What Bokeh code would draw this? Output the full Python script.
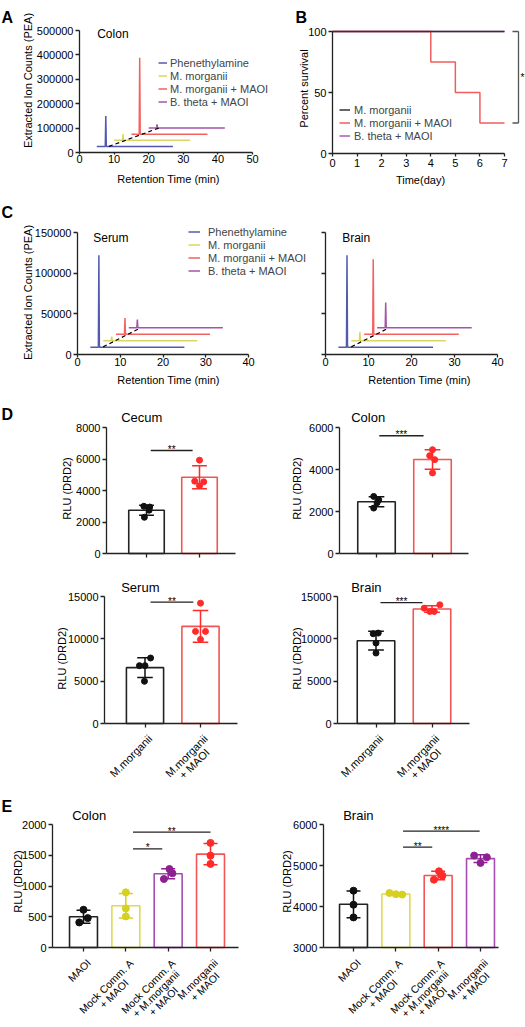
import math
import numpy as np
from bokeh.plotting import figure
from bokeh.models import Range1d, FixedTicker, NumeralTickFormatter, Label, Legend, LegendItem
from bokeh.layouts import column, row
from bokeh.embed import file_html
from bokeh.resources import INLINE
from bokeh.core.properties import value

FONT = "Liberation Sans"

# ---------------- DATA ----------------
chrom_series = ["Phenethylamine", "M. morganii", "M. morganii + MAOI", "B. theta + MAOI"]
chrom_colors = ["#27309a", "#d2cc3a", "#f23a3a", "#8c2a94"]

# Panel A (colon chromatograms)
A_start = [5, 10, 15, 20]
A_end = [27, 32, 37, 42]
A_base = [25000, 50000, 75000, 100000]
A_peak_rt = [7.6, 12.6, 17.4, 22.4]
A_peak_h = [150000, 76000, 388000, 115000]
A_dash_x = [8.5, 22.9]
A_dash_y = [25000, 100000]

# Panel B (survival)
B_series = ["M. morganii", "M. morganii + MAOI", "B. theta + MAOI"]
B_colors = ["#333333", "#f25c5c", "#a45cb4"]
B_days = [[0, 7], [0, 4, 5, 6, 7], [0, 7]]
B_surv = [[100, 100], [100, 75, 50, 25, 25], [100, 100]]
B_sig = (25, 100, "*")

# Panel C (serum / brain chromatograms)
C_start = [3, 6, 9, 12]
C_end = [25, 28, 31, 34]
C_base = [9000, 17000, 25000, 33000]
C_peak_rt = [5.0, 8.0, 11.1, 14.0]
C_serum_peak_h = [122000, 22000, 45000, 43000]
C_brain_peak_h = [122000, 28000, 117000, 64000]
C_dash_x = [6.0, 14.4]
C_dash_y = [9400, 31800]

# Panel D (RLU DRD2)
D_groups = ["M.morganii", "M.morganii\n+ MAOI"]
D_cecum = [[3000, 2950, 2750, 2300], [5926, 4593, 4550, 4296]]
D_colon = [[2716, 2558, 2416, 2163], [4942, 4658, 4469, 3837]]
D_serum = [[6832, 6832, 7735, 4986], [14213, 10876, 10876, 9933]]
D_brain = [[10600, 10679, 9501, 8323], [13624, 13231, 13231, 14016]]
D_cecum_jit = [[-0.05, 0.06, 0.05, -0.04], [0, -0.09, 0.08, 0]]
D_colon_jit = [[-0.05, 0.04, 0.01, -0.05], [0, -0.05, 0.04, 0]]
D_serum_jit = [[-0.1, 0, 0.1, -0.01], [0, -0.09, 0.09, 0]]
D_brain_jit = [[-0.05, 0.04, 0, 0], [-0.14, -0.04, 0.04, 0.14]]
D_sig = {"cecum": (0.08, 0.87, 6540, "**"), "colon": (0.05, 0.84, 5606, "***"),
         "serum": (0.1, 0.87, 14330, "**"), "brain": (0.08, 0.83, 14270, "***")}

# Panel E
E_groups = ["MAOI", "Mock Comm. A\n+ MAOI", "Mock Comm. A\n+ M.morganii\n+ MAOI", "M.morganii\n+ MAOI"]
E_colon = [[614, 408, 478], [897, 636, 505], [1277, 1207, 1114], [1701, 1495, 1359]]
E_colon_jit = [[0, -0.1, 0.1], [0, 0, 0], [0.03, 0.1, -0.1], [0, 0, 0]]
E_brain = [[4386, 4043, 3734], [4329, 4300, 4290], [4859, 4753, 4655], [5242, 5201, 5062]]
E_brain_jit = [[0, 0, 0], [-0.15, 0, 0.15], [0.02, 0.1, -0.1], [-0.15, 0.15, 0]]
E_colon_sig = [(1.17, 1.86, 1603, "*"), (1.17, 3.0, 1875, "**")]
E_brain_sig = [(1.17, 1.86, 5446, "**"), (1.17, 2.98, 5837, "****")]

BLACK_LINE, BLACK_DOT = "#222222", "#111111"
RED_LINE, RED_DOT = "#f25555", "#ff2a2a"
YEL_LINE, YEL_DOT = "#e0da50", "#d6d01e"
PUR_LINE, PUR_DOT = "#a64cb5", "#8e2192"

# ---------------- HELPERS ----------------
CW = {'M': 833, 'A': 667, 'O': 778, 'I': 278, 'o': 556, 'c': 500, 'k': 500, ' ': 278, 'C': 722,
      'm': 833, '.': 278, '+': 584, 'r': 333, 'g': 556, 'a': 556, 'n': 556, 'i': 222}


def text_w(s, fs):
    return sum(CW.get(ch, 556) for ch in s) / 1000.0 * fs


def make_fig(box, xmap, ymap):
    """box: canvas box in page px; xmap/ymap: ((px, value), (px, value)) anchors."""
    bx0, by0, bx1, by1 = box
    (pxa, xa), (pxb, xb) = xmap
    (pya, ya), (pyb, yb) = ymap
    sx = (xb - xa) / (pxb - pxa)
    sy = (yb - ya) / (pyb - pya)
    xr = (xa + (bx0 - pxa) * sx, xa + (bx1 - pxa) * sx)
    yr = (ya + (by1 - pya) * sy, ya + (by0 - pya) * sy)
    p = figure(width=bx1 - bx0, height=by1 - by0, x_range=Range1d(*xr), y_range=Range1d(*yr),
               output_backend="svg", toolbar_location=None, title=None,
               min_border_left=0, min_border_right=0, min_border_top=0, min_border_bottom=0)
    p.outline_line_color = None
    p.xgrid.visible = False
    p.ygrid.visible = False
    p.background_fill_color = "white"
    p.border_fill_color = "white"

    def conv(px, py):
        return xa + (px - pxa) * sx, ya + (py - pya) * sy
    return p, conv


def setup_axes(p, conv, yaxis_px, xaxis_py, xend_px, ytop_py, xticks, yticks,
               fs="11px", xtick_out=3, xstand=1, show_x=True, show_y=True):
    x0, _ = conv(yaxis_px, 0)
    x1, _ = conv(xend_px, 0)
    _, y0 = conv(0, xaxis_py)
    _, y1 = conv(0, ytop_py)
    xa, ya = p.xaxis[0], p.yaxis[0]
    xa.fixed_location = y0
    ya.fixed_location = x0
    xa.bounds = (x0, x1)
    ya.bounds = (y0, y1)
    xa.ticker = FixedTicker(ticks=xticks)
    ya.ticker = FixedTicker(ticks=yticks)
    for ax in (xa, ya):
        ax.axis_line_color = BLACK_LINE
        ax.axis_line_width = 1.3
        ax.major_tick_line_color = BLACK_LINE
        ax.major_tick_line_width = 1.3
        ax.major_tick_in = 0
        ax.major_tick_out = 4
        ax.minor_tick_line_color = None
        ax.major_label_text_font = FONT
        ax.major_label_text_font_size = fs
        ax.major_label_text_color = "black"
        ax.major_label_standoff = 2
    xa.major_tick_out = xtick_out
    xa.major_label_standoff = xstand
    if not show_x:
        xa.major_label_text_color = None
    if not show_y:
        ya.major_label_text_color = None


def add_label(p, conv, px, py, text, size, align="left", baseline="middle", bold=False, angle=0.0):
    x, y = conv(px, py)
    p.add_layout(Label(x=x, y=y, text=text, text_font=FONT, text_font_size=f"{size}px",
                       text_align=align, text_baseline=baseline, angle=angle,
                       text_font_style="bold" if bold else "normal", text_color="black"))


def chrom(p, starts, ends, bases, rts, heights, hw):
    rs = []
    for s, e, b, rt, h, c in zip(starts, ends, bases, rts, heights, chrom_colors):
        xs = [s, rt - hw, rt, rt + hw, e]
        ys = [b, b, h, b, b]
        rs.append(p.line(xs, ys, line_color=c, line_width=1.5, line_alpha=0.8))
    return rs


def add_legend(p, labels, renderers, loc, glyph_w, standoff, row_h):
    lg = Legend(items=[LegendItem(label=t, renderers=[r]) for t, r in zip(labels, renderers)],
                location=loc, orientation="vertical", padding=0, margin=0, spacing=0,
                glyph_width=glyph_w, glyph_height=row_h, label_height=row_h,
                label_standoff=standoff, label_text_font=FONT, label_text_font_size="11px",
                label_text_line_height=1.0, background_fill_alpha=0, border_line_alpha=0)
    p.add_layout(lg)


def bar_panel(p, vals, jit, line_cols, dot_cols, bw, cap, dsize, bottom):
    for i, (v, j, lc, dc) in enumerate(zip(vals, jit, line_cols, dot_cols)):
        m = float(np.mean(v))
        sd = float(np.std(v, ddof=1))
        p.vbar(x=[i], width=bw, top=[m], bottom=bottom, fill_color="white",
               line_color=lc, line_width=1.6)
        p.segment(x0=[i], y0=[m - sd], x1=[i], y1=[m + sd], line_color=dc, line_width=1.5)
        p.segment(x0=[i - cap, i - cap], y0=[m - sd, m + sd], x1=[i + cap, i + cap],
                  y1=[m - sd, m + sd], line_color=dc, line_width=1.5)
        p.scatter(x=[i + jj for jj in j], y=v, size=dsize, color=dc)


def sig_marks(p, sigs):
    for x0, x1, y, t in sigs:
        p.segment(x0=[x0], y0=[y], x1=[x1], y1=[y], line_color=BLACK_LINE, line_width=1.3)
        p.text(x=[(x0 + x1) / 2], y=[y], text=[t], text_align="center", text_baseline="middle",
               y_offset=-1, text_font=value(FONT), text_font_size="10px", text_color="black")


def rot_tick_labels(p, conv, tick_px, axis_py, labels, fs, dx=1, dy=9):
    a = math.pi / 4
    c = math.cos(a)
    lh = fs * 1.0
    for tx, lab in zip(tick_px, labels):
        lines = lab.split("\n")
        w1 = text_w(lines[0], fs)
        cx = tx + dx - w1 / 2 * c
        cy = axis_py + dy + w1 / 2 * c
        for k, ln in enumerate(lines):
            add_label(p, conv, cx + k * lh * c, cy + k * lh * c, ln, fs,
                      align="center", baseline="top", angle=a)


# ---------------- PANEL A ----------------
pA, cA = make_fig((0, 0, 268, 190), ((79, 0), (252, 50)), ((152, 0), (30, 500000)))
rA = chrom(pA, A_start, A_end, A_base, A_peak_rt, A_peak_h, 0.15)
pA.line(A_dash_x, A_dash_y, line_color="black", line_dash="4 3", line_width=1.2)
setup_axes(pA, cA, 79, 152, 252, 30, [0, 10, 20, 30, 40, 50],
           [0, 100000, 200000, 300000, 400000, 500000], xtick_out=2, xstand=0)
pA.yaxis.formatter = NumeralTickFormatter(format="0")
add_label(pA, cA, 168, 178, "Retention Time (min)", 11, align="center")
add_label(pA, cA, 27.5, 80, "Extracted Ion Counts (PEA)", 11, align="center", angle=math.pi / 2)
add_legend(pA, chrom_series, rA, (158, 82), 9, 3, 13)
add_label(pA, cA, 96.7, 33, "Colon", 12)
add_label(pA, cA, 1, 17, "A", 16, baseline="alphabetic", bold=True)

# ---------------- PANEL B ----------------
pB, cB = make_fig((268, 0, 525, 190), ((332, 0), (504, 7)), ((153, 0), (31, 100)))
rB = []
for d, s, c in zip(B_days[::-1], B_surv[::-1], B_colors[::-1]):
    rB.append(pB.step(d, s, mode="after", line_color=c, line_width=1.5))
rB = rB[::-1]
setup_axes(pB, cB, 332, 153, 504, 31, list(range(8)), [0, 50, 100], xtick_out=3, xstand=2)
bx, _ = cB(518, 0)
bxc, _ = cB(512, 0)
bxs, _ = cB(522, 0)
pB.segment(x0=[bx, bxc, bxc], y0=[B_sig[0], B_sig[1], B_sig[0]], x1=[bx, bx, bx],
           y1=[B_sig[1], B_sig[1], B_sig[0]], line_color="#555555", line_width=1.3)
pB.text(x=[bxs], y=[(B_sig[0] + B_sig[1]) / 2], text=[B_sig[2]], text_align="center",
        text_baseline="middle", text_font=value(FONT), text_font_size="10px")
add_label(pB, cB, 420, 179, "Time(day)", 11, align="center")
add_label(pB, cB, 303, 88, "Percent survival", 11, align="center", angle=math.pi / 2)
add_legend(pB, B_series, rB, (71, 48), 11, 4, 13)
add_label(pB, cB, 295, 17, "B", 16, baseline="alphabetic", bold=True)

# ---------------- PANEL C ----------------
pC1, cC1 = make_fig((0, 190, 312, 390), ((77, 0), (248, 40)), ((354, 0), (232, 150000)))
rC = chrom(pC1, C_start, C_end, C_base, C_peak_rt, C_serum_peak_h, 0.12)
pC1.line(C_dash_x, C_dash_y, line_color="black", line_dash="4 3", line_width=1.2)
setup_axes(pC1, cC1, 77, 354, 248, 232, [0, 10, 20, 30, 40], [0, 50000, 100000, 150000],
           xtick_out=3, xstand=0)
pC1.yaxis.formatter = NumeralTickFormatter(format="0")
add_label(pC1, cC1, 168, 379, "Retention Time (min)", 11, align="center")
add_label(pC1, cC1, 27.5, 292, "Extracted Ion Counts (PEA)", 11, align="center", angle=math.pi / 2)
add_legend(pC1, chrom_series, rC, (188, 113), 12, 8, 13)
add_label(pC1, cC1, 92.7, 237, "Serum", 12)
add_label(pC1, cC1, 1, 212, "C", 16, baseline="alphabetic", bold=True)

pC2, cC2 = make_fig((312, 190, 525, 390), ((325, 0), (497, 40)), ((354, 0), (232, 150000)))
chrom(pC2, C_start, C_end, C_base, C_peak_rt, C_brain_peak_h, 0.12)
pC2.line(C_dash_x, C_dash_y, line_color="black", line_dash="4 3", line_width=1.2)
setup_axes(pC2, cC2, 325, 354, 497, 232, [0, 10, 20, 30, 40], [0, 50000, 100000, 150000],
           xtick_out=3, xstand=0, show_y=False)
add_label(pC2, cC2, 419, 379, "Retention Time (min)", 11, align="center")
add_label(pC2, cC2, 341.7, 237, "Brain", 12)

# ---------------- PANEL D ----------------
D_lines = [BLACK_LINE, RED_LINE]
D_dots = [BLACK_DOT, RED_DOT]


def d_panel(box, yaxis_px, xend_px, tick_px, top_py, bot_py, ymax, yticks, vals, jit, sig,
            title, title_px, ylab_px, show_labels):
    p, cv = make_fig(box, ((tick_px[0], 0), (tick_px[1], 1)), ((bot_py, 0), (top_py, ymax)))
    bar_panel(p, vals, jit, D_lines, D_dots, 0.67, 0.14, 6, 0)
    sig_marks(p, [sig])
    setup_axes(p, cv, yaxis_px, bot_py, xend_px, top_py, [0, 1], yticks, xtick_out=4,
               show_x=False)
    add_label(p, cv, ylab_px[0], ylab_px[1], "RLU (DRD2)", 11, align="center", angle=math.pi / 2)
    add_label(p, cv, title_px[0], title_px[1], title, 13)
    if show_labels:
        rot_tick_labels(p, cv, tick_px, bot_py, D_groups, 11)
    return p, cv


pD1, cD1 = d_panel((0, 390, 260, 565), 106, 235, (146, 199), 427, 553, 8000,
                   [0, 2000, 4000, 6000, 8000], D_cecum, D_cecum_jit, D_sig["cecum"],
                   "Cecum", (120.7, 417), (66, 488), False)
add_label(pD1, cD1, 1, 414, "D", 16, baseline="alphabetic", bold=True)
pD2, _ = d_panel((260, 390, 525, 565), 339, 468, (376, 432), 427, 553, 6000,
                 [0, 2000, 4000, 6000], D_colon, D_colon_jit, D_sig["colon"],
                 "Colon", (350.7, 417), (296, 488), False)
pD3, _ = d_panel((0, 565, 260, 788), 104, 237, (144.5, 200), 596, 723, 15000,
                 [0, 5000, 10000, 15000], D_serum, D_serum_jit, D_sig["serum"],
                 "Serum", (120.7, 587), (61, 658), True)
pD4, _ = d_panel((260, 565, 525, 788), 337, 469, (375.5, 431.5), 596, 723, 15000,
                 [0, 5000, 10000, 15000], D_brain, D_brain_jit, D_sig["brain"],
                 "Brain", (350.7, 587), (296, 658), True)

# ---------------- PANEL E ----------------


def e_panel(box, yaxis_px, xend_px, tick_px, yr, yticks, vals, jit, lcols, dcols, sigs,
            title, title_px, ylab_px):
    p, cv = make_fig(box, ((tick_px[0], 0), (tick_px[-1], 3)), ((947, yr[0]), (824, yr[1])))
    bar_panel(p, vals, jit, lcols, dcols, 0.66, 0.165, 7, yr[0])
    sig_marks(p, sigs)
    setup_axes(p, cv, yaxis_px, 947, xend_px, 824, [0, 1, 2, 3], yticks, xtick_out=4,
               show_x=False)
    add_label(p, cv, ylab_px[0], ylab_px[1], "RLU (DRD2)", 11, align="center", angle=math.pi / 2)
    add_label(p, cv, title_px[0], title_px[1], title, 13)
    rot_tick_labels(p, cv, tick_px, 947, E_groups, 10.5)
    return p, cv


pE1, cE1 = e_panel((0, 788, 260, 1027), 52, 238, (83, 126, 168, 210), (0, 2000),
                   [0, 500, 1000, 1500, 2000], E_colon, E_colon_jit,
                   [BLACK_LINE, YEL_LINE, PUR_LINE, RED_LINE], [BLACK_DOT, YEL_DOT, PUR_DOT, RED_DOT],
                   E_colon_sig, "Colon", (71.7, 815), (17, 881))
add_label(pE1, cE1, 1, 806, "E", 16, baseline="alphabetic", bold=True)
pE2, _ = e_panel((260, 788, 525, 1027), 323, 498, (353, 395, 437, 480), (3000, 6000),
                 [3000, 4000, 5000, 6000], E_brain, E_brain_jit,
                 [BLACK_LINE, YEL_LINE, RED_LINE, PUR_LINE], [BLACK_DOT, YEL_DOT, RED_DOT, PUR_DOT],
                 E_brain_sig, "Brain", (342.7, 815), (286, 881))

layout = column(
    row(pA, pB, spacing=0),
    row(pC1, pC2, spacing=0),
    row(pD1, pD2, spacing=0),
    row(pD3, pD4, spacing=0),
    row(pE1, pE2, spacing=0),
    spacing=0,
)

open("out.html", "w").write(file_html(layout, INLINE))
